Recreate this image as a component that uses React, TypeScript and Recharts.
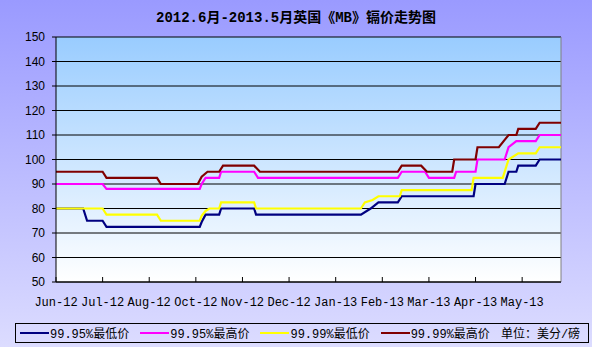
import React from 'react';
import { LineChart, Line, XAxis, YAxis, CartesianGrid, ReferenceLine } from 'recharts';

const TITLE = '2012.6月-2013.5月英国《MB》镉价走势图';
const UNIT_LABEL = '单位：美分/磅';

// category ticks (index of trading-day point) and their labels
const MONTH_TICKS = [0, 24, 48, 72, 96, 120, 144, 168, 192, 216, 240];
const MONTH_LABELS = ['Jun-12', 'Jul-12', 'Aug-12', 'Oct-12', 'Nov-12', 'Dec-12', 'Jan-13', 'Feb-13', 'Mar-13', 'Apr-13', 'May-13'];
const X_MAX = 260;
const Y_TICKS = [50, 60, 70, 80, 90, 100, 110, 120, 130, 140, 150];

// [point index, price] at each change of the series
const LOW_9995: [number, number][] = [
  [0, 80], [14, 80], [16, 75], [24, 75], [26, 72.5], [74, 72.5], [75, 74.5], [77, 77.5], [84, 77.5], [85, 80],
  [102, 80], [103, 77.5], [157, 77.5], [162, 80], [166, 82.5], [176, 82.5], [178, 85], [215, 85], [216, 90],
  [231, 90], [233, 95], [237, 95], [238, 97.5], [247, 97.5], [249, 100], [260, 100],
];
const HIGH_9995: [number, number][] = [
  [0, 90], [24, 90], [26, 88], [74, 88], [75, 90], [77, 92.5], [84, 92.5], [85, 95], [102, 95], [104, 92.5],
  [176, 92.5], [178, 95], [190, 95], [192, 92.5], [205, 92.5], [206, 95], [216, 95], [217, 100], [231, 100],
  [233, 105], [237, 107.5], [247, 107.5], [249, 110], [260, 110],
];
const LOW_9999: [number, number][] = [
  [0, 80], [24, 80], [26, 77.5], [52, 77.5], [54, 75], [74, 75], [75, 77], [77, 79], [79, 80], [84, 80], [85, 82.5],
  [102, 82.5], [103, 80], [157, 80], [159, 82.5], [163, 83.5], [166, 85], [177, 85], [178, 87.5], [214, 87.5],
  [215, 92.5], [230, 92.5], [233, 100], [238, 102.5], [247, 102.5], [249, 105], [260, 105],
];
const HIGH_9999: [number, number][] = [
  [0, 95], [24, 95], [26, 92.5], [52, 92.5], [54, 90], [73, 90], [75, 93], [78, 95], [84, 95], [86, 97.5],
  [102, 97.5], [105, 95], [176, 95], [178, 97.5], [188, 97.5], [191, 95], [204, 95], [205, 100], [216, 100],
  [217, 105], [228, 105], [231, 108], [233, 110], [237, 110], [238, 112.5], [247, 112.5], [249, 115], [260, 115],
];

const SERIES = [
  { name: '99.95%最低价', color: '#000080', points: LOW_9995 },
  { name: '99.95%最高价', color: '#ff00ff', points: HIGH_9995 },
  { name: '99.99%最低价', color: '#ffff00', points: LOW_9999 },
  { name: '99.99%最高价', color: '#800000', points: HIGH_9999 },
];

const toRows = (pts: [number, number][]) => pts.map(([u, v]) => ({ u, v }));

const MONO = "'Liberation Mono', 'Noto Sans CJK SC', monospace";

const XTick = (props: any) => {
  const { x, y, payload } = props;
  const idx = MONTH_TICKS.indexOf(payload.value);
  const axisY = y - 8;
  return (
    <g>
      <line x1={x} x2={x} y1={axisY} y2={axisY - 5} stroke="#000" strokeWidth={1} />
      <text x={x} y={axisY + 24} textAnchor="middle" fontSize={12} fontFamily={MONO} fill="#000">
        {MONTH_LABELS[idx]}
      </text>
    </g>
  );
};

export default function App() {
  return (
    <div
      style={{
        position: 'absolute',
        left: 0,
        top: 0,
        width: 592,
        height: 347,
        overflow: 'hidden',
        background: 'linear-gradient(180deg, #9a9aff 0%, #b8b8ff 45%, #dcdcff 100%)',
      }}
    >
      <div
        style={{
          position: 'absolute',
          top: 9,
          left: 0,
          width: 592,
          textAlign: 'center',
          fontSize: 14,
          fontWeight: 'bold',
          lineHeight: '18px',
          fontFamily: MONO,
          color: '#000',
        }}
      >
        {TITLE}
      </div>
      <div style={{ position: 'absolute', left: 0, top: 0 }}>
        <LineChart width={592} height={347} margin={{ top: 37, right: 31, bottom: 35, left: 0 }}>
          <defs>
            <linearGradient id="plotBg" x1="0" y1="0" x2="0" y2="1">
              <stop offset="0" stopColor="#99ccff" />
              <stop offset="1" stopColor="#ffffff" />
            </linearGradient>
          </defs>
          <CartesianGrid vertical={false} stroke="#000" strokeOpacity={1} fill="url(#plotBg)" fillOpacity={1} />
          <XAxis
            type="number"
            dataKey="u"
            domain={[0, X_MAX]}
            ticks={MONTH_TICKS}
            interval={0}
            tick={<XTick />}
            tickLine={false}
            tickSize={6}
            tickMargin={2}
            axisLine={{ stroke: '#000' }}
            height={30}
            allowDataOverflow
          />
          <YAxis
            type="number"
            domain={[50, 150]}
            ticks={Y_TICKS}
            interval={0}
            width={56}
            tickSize={4}
            tickMargin={7}
            tick={{ fontSize: 12, fill: '#000', fontFamily: "'Liberation Sans', Arial, sans-serif" }}
            tickLine={{ stroke: '#000' }}
            axisLine={{ stroke: '#000' }}
          />
          <ReferenceLine x={X_MAX} stroke="#808080" strokeWidth={1} />
          {SERIES.map((s) => (
            <Line
              key={s.name}
              name={s.name}
              data={toRows(s.points)}
              dataKey="v"
              type="linear"
              stroke={s.color}
              strokeWidth={2.2}
              dot={false}
              activeDot={false}
              isAnimationActive={false}
            />
          ))}
        </LineChart>
      </div>
      <div
        style={{
          position: 'absolute',
          left: 15,
          top: 323,
          width: 574,
          height: 20,
          boxSizing: 'border-box',
          border: '1px solid #000',
          display: 'flex',
          alignItems: 'center',
          paddingLeft: 4,
          fontSize: 12,
          fontFamily: MONO,
          color: '#000',
          whiteSpace: 'nowrap',
        }}
      >
        {SERIES.map((s) => (
          <span key={s.name} style={{ display: 'inline-flex', alignItems: 'center', marginRight: 11 }}>
            <span style={{ display: 'inline-block', width: 29, height: 2, background: s.color, marginRight: 1 }} />
            <span>{s.name}</span>
          </span>
        ))}
        <span>{UNIT_LABEL}</span>
      </div>
    </div>
  );
}
